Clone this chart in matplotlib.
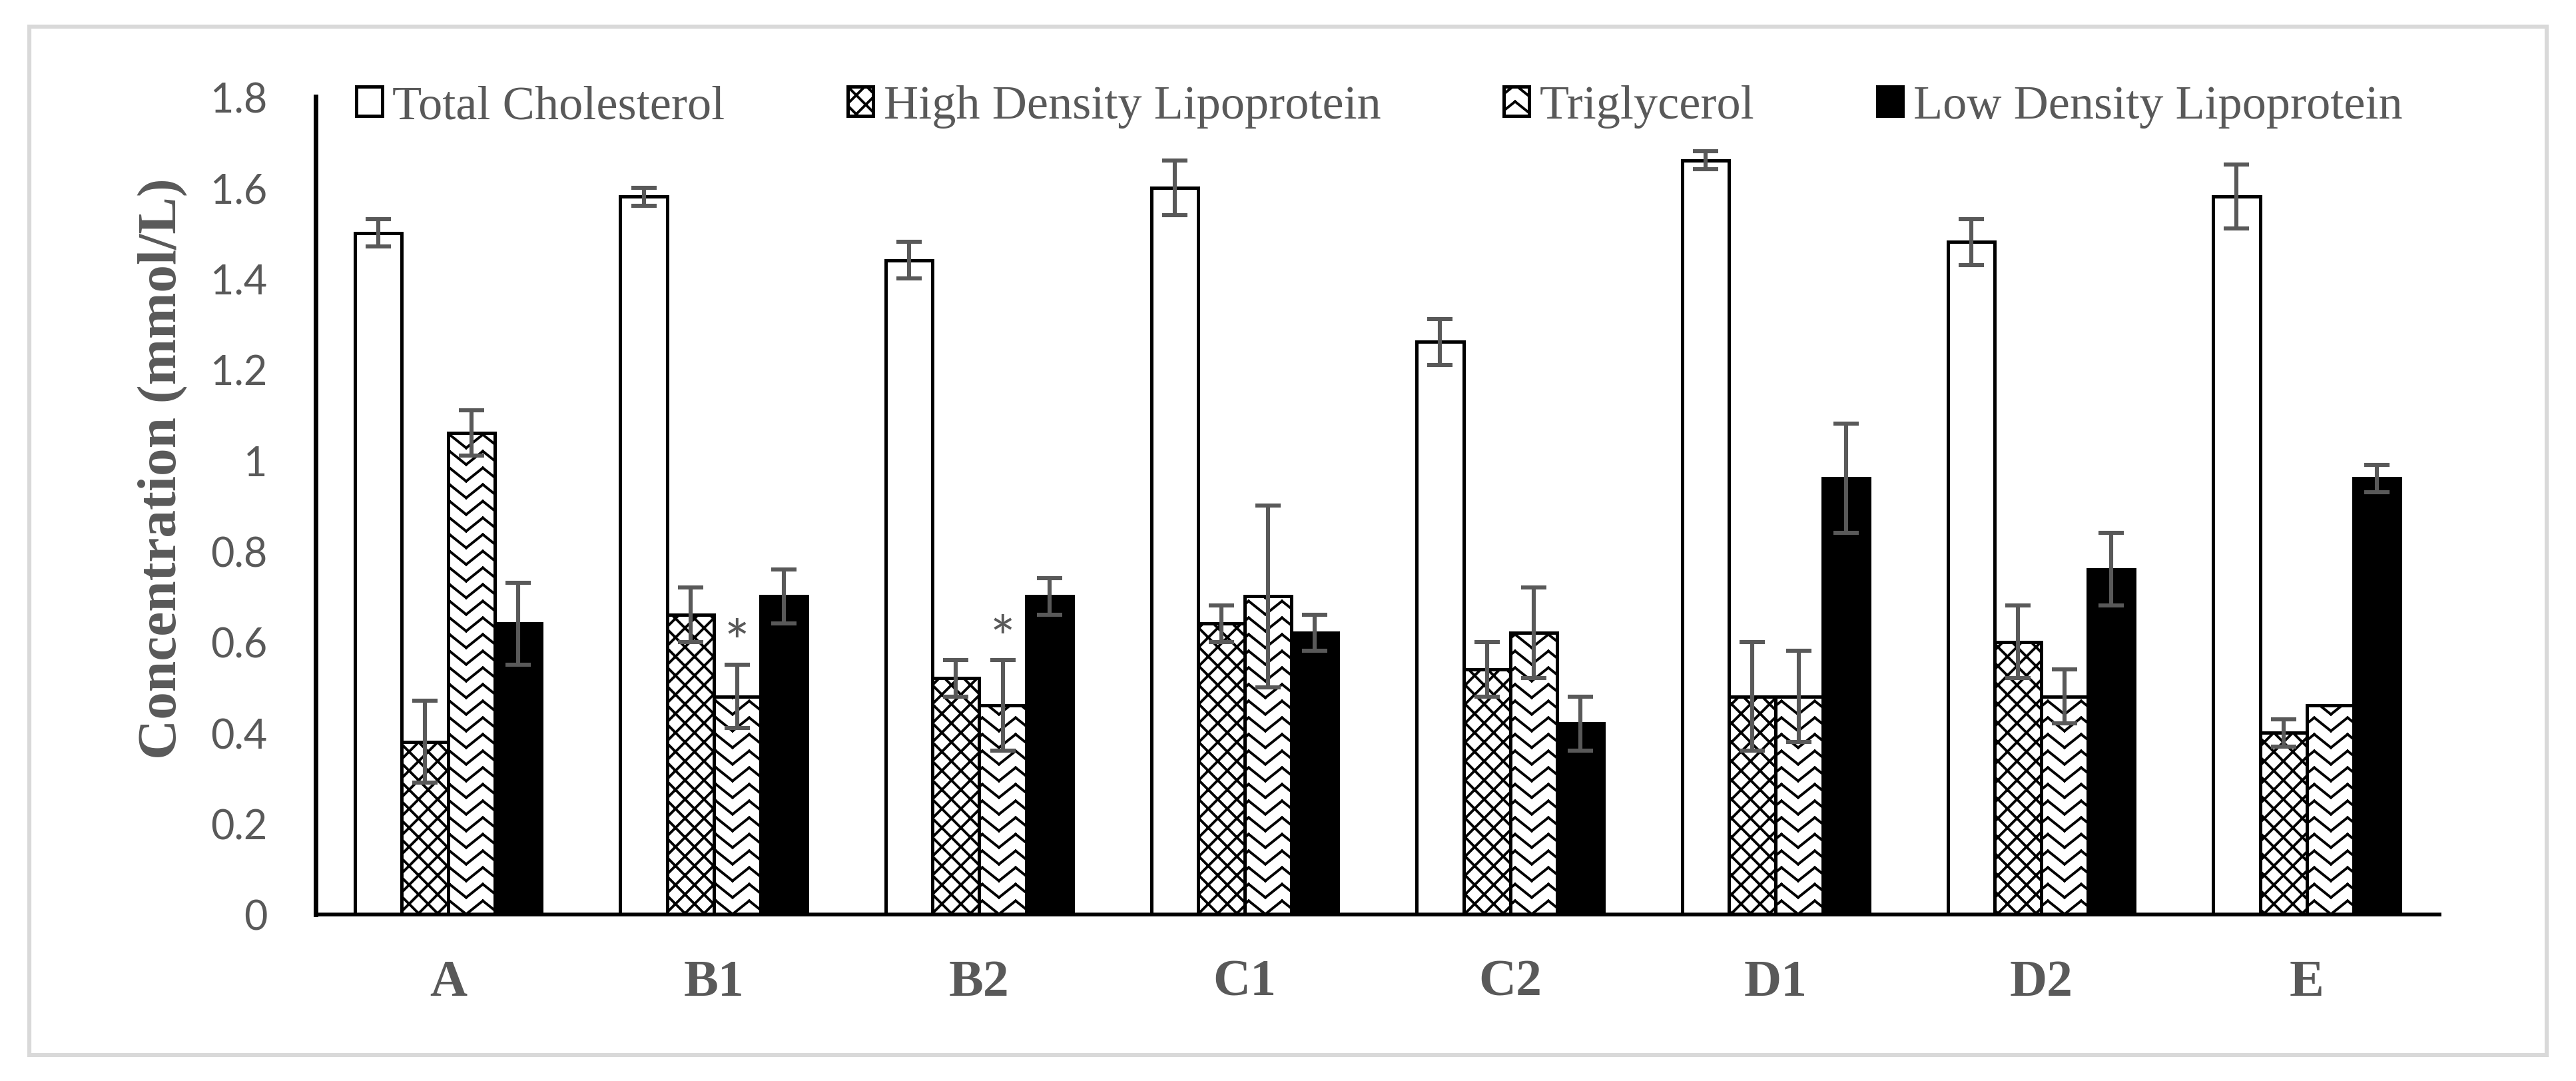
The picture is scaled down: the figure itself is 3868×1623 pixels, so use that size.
import warnings
import numpy as np
import matplotlib
matplotlib.use('Agg')
import matplotlib.pyplot as plt
import matplotlib.hatch as mhatch
from matplotlib.path import Path
from matplotlib.patches import Rectangle
from matplotlib.ticker import FuncFormatter

warnings.filterwarnings('ignore')

# data (mmol/L)
groups = ['A', 'B1', 'B2', 'C1', 'C2', 'D1', 'D2', 'E']
series_names = ['Total Cholesterol', 'High Density Lipoprotein', 'Triglycerol', 'Low Density Lipoprotein']

total_chol = [1.50, 1.58, 1.44, 1.60, 1.26, 1.66, 1.48, 1.58]
total_chol_err = [0.03, 0.02, 0.04, 0.06, 0.05, 0.02, 0.05, 0.07]
hdl = [0.38, 0.66, 0.52, 0.64, 0.54, 0.48, 0.60, 0.40]
hdl_err = [0.09, 0.06, 0.04, 0.04, 0.06, 0.12, 0.08, 0.03]
trig = [1.06, 0.48, 0.46, 0.70, 0.62, 0.48, 0.48, 0.46]
trig_err = [0.05, 0.07, 0.10, 0.20, 0.10, 0.10, 0.06, np.nan]  # no bar drawn for E
ldl = [0.64, 0.70, 0.70, 0.62, 0.42, 0.96, 0.76, 0.96]
ldl_err = [0.09, 0.06, 0.04, 0.04, 0.06, 0.12, 0.08, 0.03]
starred = ['B1', 'B2']  # triglycerol marked with *

GRAY = '#595959'


# zigzag fill like the Excel pattern (matplotlib has none built in)
# drawn as separate segments, since agg also fills the hatch path
class ZigZagHatch(mhatch.HatchPatternBase):
    def __init__(self, hatch, density):
        n = hatch.count('z')
        self.rows = 8 * n
        self.cols = 4 * n
        self.num_vertices = self.rows * self.cols * 2 * 2

    def set_vertices_and_codes(self, vertices, codes):
        xs = np.linspace(0, 1, 2 * self.cols + 1)
        amp = 0.8 / self.rows
        k = 0
        for r in range(self.rows):
            y0 = (r + 0.5) / self.rows
            ys = y0 + np.where(np.arange(len(xs)) % 2 == 0, -amp / 2, amp / 2)
            for j in range(len(xs) - 1):
                vertices[k] = (xs[j], ys[j])
                vertices[k + 1] = (xs[j + 1], ys[j + 1])
                codes[k] = Path.MOVETO
                codes[k + 1] = Path.LINETO
                k += 2


# diagonal cross grid, a bit coarser than 'xx'
class GridHatch(mhatch.HatchPatternBase):
    def __init__(self, hatch, density):
        self.n = 7 * hatch.count('k')
        self.num_vertices = 2 * (2 * self.n) * 2 if self.n else 0

    def set_vertices_and_codes(self, vertices, codes):
        n = self.n
        k = 0
        for j in range(-n, n):
            c = j / n
            vertices[k] = (0, c)
            vertices[k + 1] = (1, c + 1)
            codes[k] = Path.MOVETO
            codes[k + 1] = Path.LINETO
            k += 2
        for j in range(0, 2 * n):
            c = j / n
            vertices[k] = (0, c)
            vertices[k + 1] = (1, c - 1)
            codes[k] = Path.MOVETO
            codes[k + 1] = Path.LINETO
            k += 2


mhatch._hatch_types.extend([ZigZagHatch, GridHatch])

plt.rcParams['hatch.linewidth'] = 1.4

fig = plt.figure(figsize=(19.34, 8.12), dpi=200)
ax = fig.add_axes([0.1225, 0.154, 0.8245, 0.756])

x = np.arange(len(groups))
w = 0.176
styles = [
    (total_chol, total_chol_err, 'white', None),
    (hdl, hdl_err, 'white', 'k'),
    (trig, trig_err, 'white', 'z'),
    (ldl, ldl_err, 'black', None),
]

for i, (vals, errs, fc, hatch) in enumerate(styles):
    pos = x + (i - 1.5) * w
    ax.bar(pos, vals, w, color=fc, edgecolor='black', linewidth=1.8,
           hatch=hatch, label=series_names[i], zorder=2)
    ax.errorbar(pos, vals, yerr=errs, fmt='none', ecolor=GRAY,
                elinewidth=2.2, capsize=6.8, capthick=2.2, zorder=3)

# significance marks
for g in starred:
    i = groups.index(g)
    top = trig[i] + trig_err[i]
    ax.text(x[i] + 0.5 * w, top - 0.02, '*', ha='center', va='bottom',
            fontsize=32, color=GRAY, family='Lato')

ax.set_xlim(-0.5, len(groups) - 0.5)
ax.set_ylim(0, 1.8)
ax.set_yticks(np.arange(0, 1.81, 0.2))
ax.yaxis.set_major_formatter(FuncFormatter(lambda v, p: '{:g}'.format(round(v, 1))))
ax.set_xticks(x)
ax.set_xticklabels(groups, family='Liberation Serif', fontweight='bold', fontsize=28, color=GRAY)
ax.tick_params(axis='x', length=0, pad=24)
ax.tick_params(axis='y', length=0, pad=26, labelsize=22, labelcolor=GRAY)
for lab in ax.get_yticklabels():
    lab.set_family('Lato')

for s in ['top', 'right']:
    ax.spines[s].set_visible(False)
ax.spines['left'].set_linewidth(2.5)
ax.spines['bottom'].set_linewidth(2.0)

ax.set_ylabel('Concentration (mmol/L)', family='Liberation Serif', fontweight='bold',
              fontsize=30, color=GRAY)
ax.yaxis.set_label_coords(-0.060, 0.546)

leg = ax.legend(loc='center', bbox_to_anchor=(0.501, 0.988), ncol=4, frameon=False,
                handlelength=0.53, handleheight=0.55, handletextpad=0.22,
                columnspacing=2.55, prop={'family': 'Liberation Serif', 'size': 26})
for t in leg.get_texts():
    t.set_color(GRAY)

# light grey frame around the whole chart
fig.patches.append(Rectangle((44 / 3868, 1 - 1585 / 1624), (3824 - 44) / 3868, (1585 - 41) / 1624,
                             transform=fig.transFigure, fill=False, edgecolor='#d9d9d9', linewidth=2.2))

fig.savefig('out.png', dpi=200)
